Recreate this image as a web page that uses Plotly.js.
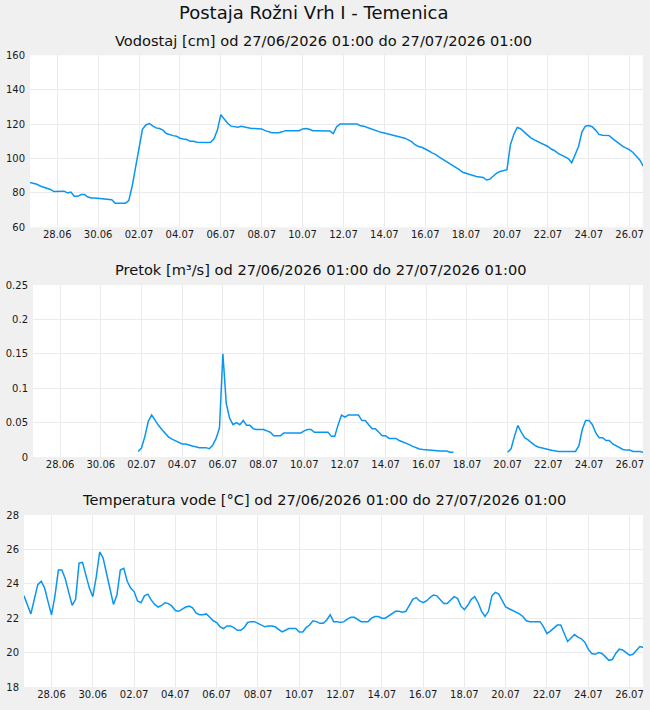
<!DOCTYPE html>
<html>
<head>
<meta charset="utf-8">
<script src="https://cdn.plot.ly/plotly-3.0.1.min.js"></script>
<style>
  html, body { margin: 0; padding: 0; background: #f0f0f0; }
  #chart { width: 650px; height: 710px; }
</style>
</head>
<body>
<div id="chart"></div>
<script>
// Station readings, one sample every 4 hours starting at the first timestamp.
const seriesStart = '2026-06-26 16:00';
const stepHours = 4;

// Water level [cm]
const vodostaj = [
  86, 85.6, 85, 84, 83.3, 82.5, 82, 80.8,
  81, 81, 81, 80, 80.5, 78, 78, 79, 79, 77.6, 77, 77,
  76.8, 76.8, 76.7, 76.2, 76, 74, 74, 74, 74, 75.5, 84, 95,
  105.5, 117, 119.5, 120.3, 119, 117.8, 117.4, 116.5, 114.5, 113.8, 113.3, 113,
  111.8, 111.3, 111, 110, 110, 109.5, 109.3, 109.3, 109.3, 109.5, 111.5, 116.5,
  125.5, 123, 120.5, 118.8, 118.5, 118.2, 118.8, 118.3, 117.8, 117.5, 117.4, 117.4,
  117.2, 116.2, 115.6, 115, 115, 115, 115.5, 116.2, 116.2, 116.2, 116.2, 116.2,
  117.2, 117.4, 117, 116.2, 116.2, 116.2, 116.2, 116.2, 116, 114.5, 118.5, 120,
  120, 120.2, 120.3, 120.3, 120, 119, 118.8, 118, 117.2, 116.5, 116, 115.2,
  114.8, 114.3, 114, 113.5, 113, 112.5, 111.8, 110.8, 109.8, 108, 107, 106.5,
  105.6, 104.5, 103.3, 102.4, 101, 99.8, 98.6, 97.5, 96.3, 95.2, 93.5, 92,
  91.3, 90.5, 90, 89.5, 89.3, 89, 87.5, 88, 89.8, 91.5, 92.5, 92.8,
  93.5, 108, 114, 118, 117.3, 115.5, 113.5, 112, 110.8, 109.8, 109, 108,
  107, 105.5, 104.5, 103, 102, 101, 100, 97.5, 102, 107, 115.5, 118.8,
  119.2, 118.5, 116.5, 114, 113.5, 113.3, 113.3, 111.6, 110, 108.4, 107, 106,
  105, 103.5, 101.5, 99, 95.5
];

// Discharge [m³/s]; null where no value was recorded
const pretok = [
  null, null, null, null, null, null, null, null,
  null, null, null, null, null, null, null, null, null, null, null, null,
  null, null, null, null, null, null, null, null, null, null, null, 0.008,
  0.013, 0.030, 0.052, 0.061, 0.053, 0.046, 0.040, 0.035, 0.029, 0.026, 0.024, 0.021,
  0.019, 0.019, 0.017, 0.016, 0.015, 0.0136, 0.0136, 0.0136, 0.012, 0.017, 0.027, 0.042,
  0.150, 0.078, 0.056, 0.047, 0.050, 0.047, 0.053, 0.046, 0.046, 0.041, 0.040, 0.040,
  0.040, 0.038, 0.036, 0.031, 0.031, 0.031, 0.035, 0.035, 0.035, 0.035, 0.035, 0.035,
  0.038, 0.040, 0.040, 0.036, 0.036, 0.036, 0.036, 0.036, 0.030, 0.030, 0.047, 0.061,
  0.058, 0.061, 0.061, 0.061, 0.061, 0.053, 0.053, 0.047, 0.041, 0.041, 0.036, 0.031,
  0.031, 0.027, 0.027, 0.027, 0.024, 0.022, 0.021, 0.018, 0.0155, 0.013, 0.0116, 0.011,
  0.0105, 0.0095, 0.0087, 0.0087, 0.0087, 0.0087, 0.0087, 0.0068, 0.0068, null, null, null,
  null, null, null, null, null, null, null, null, null, null, null, null,
  0.007, 0.012, 0.030, 0.046, 0.036, 0.028, 0.025, 0.021, 0.017, 0.0145, 0.013, 0.0118,
  0.011, 0.0097, 0.0085, 0.008, 0.008, 0.008, 0.008, 0.008, 0.008, 0.016, 0.040, 0.053,
  0.053, 0.047, 0.035, 0.028, 0.028, 0.024, 0.024, 0.019, 0.016, 0.013, 0.011, 0.010,
  0.010, 0.008, 0.008, 0.008, 0.0068
];

// Water temperature [°C]
const temperatura = [
  23.3, 22.8, 22.25, 23.1, 23.95, 24.15, 23.75, 22.95,
  22.2, 23.3, 24.8, 24.8, 24.3, 23.5, 22.75, 23.1, 25.2, 25.25, 24.5, 23.75,
  23.25, 24.4, 25.85, 25.5, 24.6, 23.65, 22.8, 23.35, 24.8, 24.9, 24.15, 23.75,
  23.55, 23.0, 22.9, 23.3, 23.4, 23.05, 22.8, 22.65, 22.75, 22.9, 22.85, 22.7,
  22.45, 22.4, 22.55, 22.65, 22.7, 22.6, 22.3, 22.2, 22.2, 22.25, 22.05, 21.85,
  21.75, 21.5, 21.4, 21.55, 21.55, 21.45, 21.3, 21.3, 21.45, 21.75, 21.8, 21.8,
  21.7, 21.6, 21.5, 21.55, 21.55, 21.5, 21.35, 21.2, 21.3, 21.4, 21.4, 21.4,
  21.2, 21.2, 21.45, 21.6, 21.85, 21.8, 21.7, 21.7, 21.9, 22.2, 21.8, 21.8,
  21.75, 21.8, 21.95, 22.05, 22.05, 21.9, 21.8, 21.8, 21.8, 22.0, 22.1, 22.1,
  22.0, 22.0, 22.15, 22.3, 22.4, 22.4, 22.35, 22.4, 22.75, 23.1, 23.2, 23.0,
  22.9, 23.0, 23.2, 23.35, 23.3, 23.1, 22.85, 22.85, 23.05, 23.25, 23.15, 22.7,
  22.5, 22.75, 23.1, 23.25, 22.9, 22.4, 22.1, 22.4, 23.3, 23.5, 23.4, 23.05,
  22.65, 22.55, 22.45, 22.35, 22.25, 22.1, 21.85, 21.8, 21.8, 21.8, 21.8, 21.5,
  21.1, 21.25, 21.4, 21.6, 21.6, 21.1, 20.65, 20.85, 21.05, 20.9, 20.8, 20.6,
  20.2, 19.95, 19.9, 20.0, 19.95, 19.75, 19.55, 19.6, 19.95, 20.2, 20.15, 20.0,
  19.85, 19.9, 20.15, 20.35, 20.3
];

const naslov = 'Postaja Rožni Vrh I - Temenica';
const podnaslovi = [
  'Vodostaj [cm] od 27/06/2026 01:00 do 27/07/2026 01:00',
  'Pretok [m³/s] od 27/06/2026 01:00 do 27/07/2026 01:00',
  'Temperatura vode [°C] od 27/06/2026 01:00 do 27/07/2026 01:00'
];

// Timestamps for the samples
function pad(n) { return String(n).padStart(2, '0'); }
function timeAxis(count) {
  const [d, t] = seriesStart.split(' ');
  const [Y, M, D] = d.split('-').map(Number);
  const [h, m] = t.split(':').map(Number);
  const t0 = Date.UTC(Y, M - 1, D, h, m);
  const out = [];
  for (let k = 0; k < count; k++) {
    const dt = new Date(t0 + k * stepHours * 3600e3);
    out.push(dt.getUTCFullYear() + '-' + pad(dt.getUTCMonth() + 1) + '-' + pad(dt.getUTCDate()) +
      ' ' + pad(dt.getUTCHours()) + ':' + pad(dt.getUTCMinutes()));
  }
  return out;
}
const cas = timeAxis(vodostaj.length);

const W = 650, H = 710;
const lineColor = '#0a96f0';
const gridColor = '#ebebeb';
const tickFont = { family: 'DejaVu Sans, sans-serif', size: 10, color: '#1a1a1a' };
const xRange = ['2026-06-26 16:00', '2026-07-26 15:40'];

function xAxis(left, anchor) {
  return {
    domain: [left / W, 643 / W],
    anchor: anchor,
    type: 'date',
    range: xRange,
    tick0: '2026-06-28',
    dtick: 2 * 86400000,
    tickformat: '%d.%m',
    showgrid: true,
    gridcolor: gridColor,
    gridwidth: 1,
    zeroline: false,
    showline: false,
    ticks: '',
    tickfont: tickFont,
    fixedrange: true
  };
}
function yAxis(top, bottom, range, dtick, anchor) {
  return {
    domain: [1 - bottom / H, 1 - top / H],
    anchor: anchor,
    range: range,
    dtick: dtick,
    tick0: range[0],
    showgrid: true,
    gridcolor: gridColor,
    gridwidth: 1,
    zeroline: false,
    showline: false,
    ticks: '',
    ticklabelstandoff: 4,
    tickfont: tickFont,
    fixedrange: true
  };
}

const lineStyle = { color: lineColor, width: 1.5 };
const traces = [
  { x: cas, y: vodostaj, xaxis: 'x', yaxis: 'y', type: 'scatter', mode: 'lines', line: lineStyle },
  { x: cas, y: pretok, xaxis: 'x2', yaxis: 'y2', type: 'scatter', mode: 'lines',
    connectgaps: false, line: lineStyle },
  { x: cas, y: temperatura, xaxis: 'x3', yaxis: 'y3', type: 'scatter', mode: 'lines', line: lineStyle }
];

const titleFont = { family: 'DejaVu Sans, sans-serif', size: 18, color: '#111' };
const subFont = { family: 'DejaVu Sans, sans-serif', size: 14.6, color: '#111' };

const layout = {
  width: W,
  height: H,
  margin: { l: 0, r: 0, t: 0, b: 0 },
  paper_bgcolor: '#f0f0f0',
  plot_bgcolor: '#ffffff',
  showlegend: false,
  xaxis: xAxis(30, 'y'),
  yaxis: yAxis(55.3, 227.3, [60, 160], 20, 'x'),
  xaxis2: xAxis(33, 'y2'),
  yaxis2: yAxis(285, 457, [0, 0.25], 0.05, 'x2'),
  xaxis3: xAxis(24, 'y3'),
  yaxis3: yAxis(515, 687, [18, 28], 2, 'x3'),
  annotations: [
    { text: naslov, x: 313 / W, y: 1 - 13 / H, xref: 'paper', yref: 'paper',
      xanchor: 'center', yanchor: 'middle', showarrow: false, font: titleFont },
    { text: podnaslovi[0], x: 323 / W, y: 1 - 40 / H, xref: 'paper', yref: 'paper',
      xanchor: 'center', yanchor: 'middle', showarrow: false, font: subFont },
    { text: podnaslovi[1], x: 320 / W, y: 1 - 269.5 / H, xref: 'paper', yref: 'paper',
      xanchor: 'center', yanchor: 'middle', showarrow: false, font: subFont },
    { text: podnaslovi[2], x: 324 / W, y: 1 - 499.5 / H, xref: 'paper', yref: 'paper',
      xanchor: 'center', yanchor: 'middle', showarrow: false, font: subFont }
  ]
};

Plotly.newPlot('chart', traces, layout, { staticPlot: true, displayModeBar: false });
</script>
</body>
</html>
